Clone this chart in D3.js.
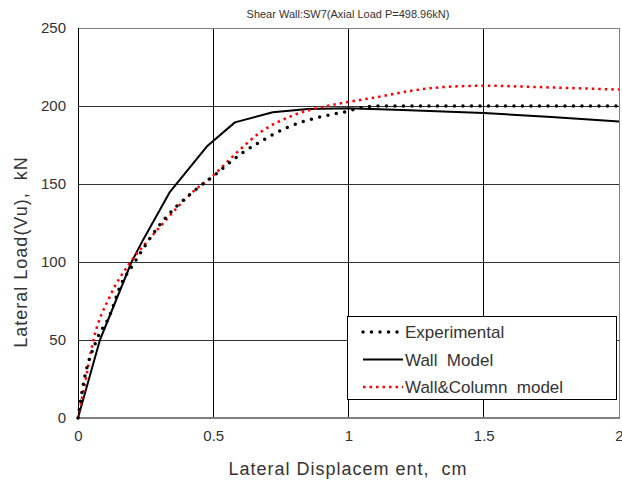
<!DOCTYPE html>
<html>
<head>
<meta charset="utf-8">
<script src="https://cdn.jsdelivr.net/npm/d3@7"></script>
<style>
  body { margin: 0; background: #fff; }
  text { font-family: "Liberation Sans", Arial, sans-serif; white-space: pre; }
</style>
</head>
<body>
<div id="chart"></div>
<script>
// Experimental curve (displacement cm, load kN)
const expX = [0, 0.02, 0.069, 0.118, 0.155, 0.21, 0.254, 0.303, 0.425, 0.5, 0.6, 0.673, 0.77, 0.895, 0.993, 1.05, 1.1, 1.5, 2.0];
const expY = [0, 22, 50, 66, 84, 100, 112, 124, 145, 155, 169, 177, 186, 193, 196.5, 199, 200, 200, 200];

// Wall model
const wallX = [0, 0.081, 0.198, 0.24, 0.34, 0.476, 0.58, 0.72, 0.85, 1.0, 1.2, 1.5, 1.75, 2.0];
const wallY = [0, 50, 100, 114, 145, 174, 189.5, 196, 198, 198.5, 197.5, 195.5, 193, 190];

// Wall & Column model
const wcX = [0, 0.02, 0.057, 0.118, 0.19, 0.26, 0.303, 0.425, 0.5, 0.58, 0.673, 0.795, 0.92, 1.03, 1.116, 1.24, 1.364, 1.51, 1.67, 1.856, 2.0];
const wcY = [0, 17, 50, 78, 99, 114, 122.6, 145, 155.5, 169, 183, 194, 200, 203.5, 206, 210, 212.3, 213, 212.3, 211.3, 210.5];

const xTicks = [0, 0.5, 1, 1.5, 2];
const yTicks = [0, 50, 100, 150, 200, 250];
const seriesNames = ["Experimental", "Wall  Model", "Wall&Column  model"];

const width = 622, height = 484;
const margin = { top: 28, right: 3, bottom: 66, left: 78 };
const innerWidth = width - margin.left - margin.right;
const innerHeight = height - margin.top - margin.bottom;

const svg = d3.select("#chart").append("svg")
  .attr("width", width)
  .attr("height", height);

const inner = svg.append("g")
  .attr("transform", `translate(${margin.left},${margin.top})`);

const x = d3.scaleLinear().domain([0, 2]).range([0, innerWidth]);
const y = d3.scaleLinear().domain([0, 250]).range([innerHeight, 0]);

// Grid lines
inner.selectAll(".hgrid")
  .data(yTicks.filter(d => d > 0 && d < 250))
  .enter().append("line")
  .attr("x1", 0).attr("x2", innerWidth)
  .attr("y1", d => y(d)).attr("y2", d => y(d))
  .attr("stroke", "#333").attr("stroke-width", 1)
  .attr("shape-rendering", "crispEdges");

inner.selectAll(".vgrid")
  .data(xTicks.filter(d => d > 0 && d < 2))
  .enter().append("line")
  .attr("x1", d => x(d)).attr("x2", d => x(d))
  .attr("y1", 0).attr("y2", innerHeight)
  .attr("stroke", "#000").attr("stroke-width", 1)
  .attr("shape-rendering", "crispEdges");

// Frame
inner.append("rect")
  .attr("x", 0).attr("y", 0)
  .attr("width", innerWidth).attr("height", innerHeight)
  .attr("fill", "none")
  .attr("stroke", "#808080")
  .attr("stroke-width", 1)
  .attr("shape-rendering", "crispEdges");

inner.append("line")
  .attr("x1", 0).attr("x2", 0).attr("y1", 0).attr("y2", innerHeight)
  .attr("stroke", "#000").attr("shape-rendering", "crispEdges");

inner.append("line")
  .attr("x1", 0).attr("x2", innerWidth).attr("y1", innerHeight).attr("y2", innerHeight)
  .attr("stroke", "#808080").attr("stroke-width", 2).attr("shape-rendering", "crispEdges");

// Axes (labels only)
const yAxis = inner.append("g")
  .call(d3.axisLeft(y).tickValues(yTicks).tickSize(0).tickPadding(12));
yAxis.select(".domain").remove();
yAxis.selectAll("text").attr("font-size", "15px").attr("fill", "#333")
  .style("font-family", "\"Liberation Sans\", Arial, sans-serif");

const xAxis = inner.append("g")
  .attr("transform", `translate(0,${innerHeight})`)
  .call(d3.axisBottom(x).tickValues(xTicks).tickFormat(d3.format("")).tickSize(0).tickPadding(12));
xAxis.select(".domain").remove();
xAxis.selectAll("text").attr("font-size", "15px").attr("fill", "#333")
  .style("font-family", "\"Liberation Sans\", Arial, sans-serif");

// Curves
const smooth = d3.line().x(d => x(d[0])).y(d => y(d[1])).curve(d3.curveMonotoneX);
const straight = d3.line().x(d => x(d[0])).y(d => y(d[1]));

inner.append("path")
  .datum(wallX.map((v, i) => [v, wallY[i]]))
  .attr("d", straight)
  .attr("fill", "none")
  .attr("stroke", "#000")
  .attr("stroke-width", 2)
  .attr("stroke-linejoin", "round");

inner.append("path")
  .datum(wcX.map((v, i) => [v, wcY[i]]))
  .attr("d", smooth)
  .attr("fill", "none")
  .attr("stroke", "#ff0000")
  .attr("stroke-width", 2.5)
  .attr("stroke-dasharray", "2.5,4");

inner.append("path")
  .datum(expX.map((v, i) => [v, expY[i]]))
  .attr("d", smooth)
  .attr("fill", "none")
  .attr("stroke", "#000")
  .attr("stroke-width", 3.5)
  .attr("stroke-linecap", "round")
  .attr("stroke-dasharray", "0,8.5");

// Title
svg.append("text")
  .attr("x", 348).attr("y", 18)
  .attr("text-anchor", "middle")
  .attr("font-size", "11px")
  .attr("fill", "#333")
  .text("Shear Wall:SW7(Axial Load P=498.96kN)");

// Axis titles
svg.append("text")
  .attr("x", 348).attr("y", 475)
  .attr("text-anchor", "middle")
  .attr("font-size", "18px")
  .attr("letter-spacing", "1px")
  .attr("fill", "#333")
  .text("Lateral Displacem ent,  cm");

svg.append("text")
  .attr("transform", "rotate(-90)")
  .attr("x", -252).attr("y", 27)
  .attr("text-anchor", "middle")
  .attr("font-size", "18px")
  .attr("letter-spacing", "1px")
  .attr("fill", "#333")
  .text("Lateral Load(Vu),  kN");

// Legend
const legend = svg.append("g").attr("transform", "translate(347,316)");
legend.append("rect")
  .attr("x", 0).attr("y", 0).attr("width", 269).attr("height", 83)
  .attr("fill", "#fff").attr("stroke", "#000").attr("stroke-width", 1)
  .attr("shape-rendering", "crispEdges");

const styles = [
  { stroke: "#000", width: 3.5, dash: "0,8.5", cap: "round" },
  { stroke: "#000", width: 2, dash: null, cap: "butt" },
  { stroke: "#ff0000", width: 2.5, dash: "2.5,4", cap: "butt" }
];

seriesNames.forEach((name, i) => {
  const yy = 16 + i * 27.5;
  legend.append("line")
    .attr("x1", 16).attr("x2", 56)
    .attr("y1", yy).attr("y2", yy)
    .attr("stroke", styles[i].stroke)
    .attr("stroke-width", styles[i].width)
    .attr("stroke-linecap", styles[i].cap)
    .attr("stroke-dasharray", styles[i].dash);
  legend.append("text")
    .attr("x", 58).attr("y", yy + 6)
    .attr("font-size", "17px")
    .attr("fill", "#333")
    .text(name);
});
</script>
</body>
</html>
